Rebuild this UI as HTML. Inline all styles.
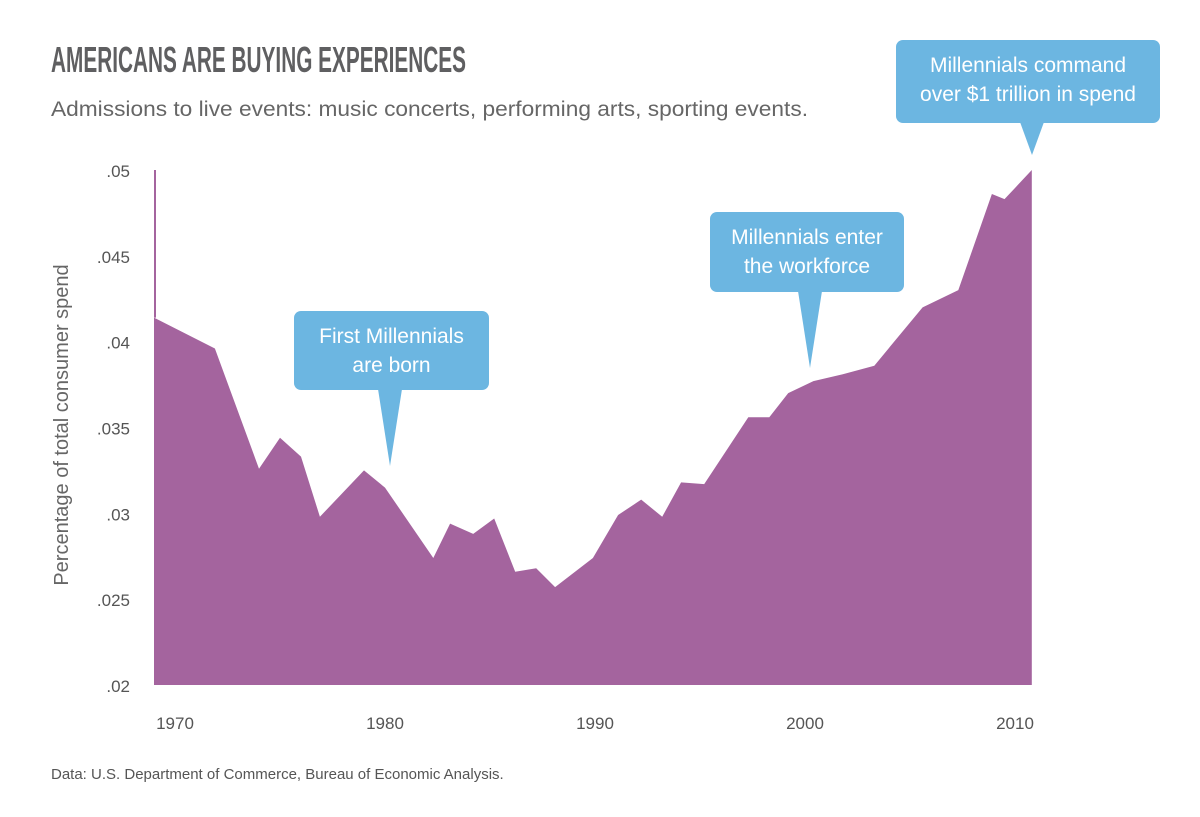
<!DOCTYPE html>
<html><head><meta charset="utf-8"><style>
body{margin:0;background:#fff;width:1200px;height:812px;overflow:hidden;font-family:"Liberation Sans",sans-serif;}
svg text{font-family:"Liberation Sans",sans-serif;}
</style></head><body>
<svg id="chart" width="1200" height="812">
<text x="51" y="72" font-size="36" font-weight="bold" fill="#5f5f61" textLength="415" lengthAdjust="spacingAndGlyphs">AMERICANS ARE BUYING EXPERIENCES</text>
<text x="51" y="116" font-size="21" fill="#666" textLength="757" lengthAdjust="spacingAndGlyphs">Admissions to live events: music concerts, performing arts, sporting events.</text>
<text transform="translate(68,425) rotate(-90)" text-anchor="middle" font-size="20" fill="#666">Percentage of total consumer spend</text>
<text x="51" y="779" font-size="15" fill="#555">Data: U.S. Department of Commerce, Bureau of Economic Analysis.</text>
<g id="marks"></g>
<g id="axes"></g>
<g id="callouts"></g>
</svg>
<script>
const years=[1969,1971.9,1974,1975,1976,1976.9,1979,1980,1982.3,1983.1,1984.2,1985.2,1986.2,1987.2,1988.1,1989.9,1991.1,1992.2,1993.2,1994.1,1995.2,1997.3,1998.3,1999.2,2000.4,2001.8,2003.3,2005.6,2007.3,2008.9,2009.5,2010.8];
const values=[0.0414,0.0396,0.0326,0.0344,0.0333,0.0298,0.0325,0.0315,0.0274,0.0294,0.0288,0.0297,0.0266,0.0268,0.0257,0.0274,0.0299,0.0308,0.0298,0.0318,0.0317,0.0356,0.0356,0.0370,0.0377,0.0381,0.0386,0.0420,0.0430,0.0486,0.0483,0.0500];
const yTicks=[0.02,0.025,0.03,0.035,0.04,0.045,0.05];
const yTickLabels=[".02",".025",".03",".035",".04",".045",".05"];
const xTicks=[1970,1980,1990,2000,2010];
const NS="http://www.w3.org/2000/svg";
const x=v=>175+(v-1970)*21.0;
const y=v=>685-(v-0.02)/0.03*515;
const marks=document.getElementById('marks'),axes=document.getElementById('axes'),co=document.getElementById('callouts');
function mk(tag,attrs,parent){const e=document.createElementNS(NS,tag);for(const k in attrs)e.setAttribute(k,attrs[k]);parent.appendChild(e);return e;}
let d=`M${x(years[0])},${y(0.02)}`;
years.forEach((yr,i)=>{d+=` L${x(yr)},${y(values[i])}`;});
d+=` L${x(years[years.length-1])},${y(0.02)} Z`;
const area=mk('path',{d:d,fill:'#a4649e'},marks);


const spike=mk('rect',{x:x(years[0]),y:y(0.05),width:2,height:y(values[0])-y(0.05),fill:'#a4649e'},marks);


yTicks.forEach((t,i)=>{const e=mk('text',{x:130,y:y(t)+7,'text-anchor':'end','font-size':17,fill:'#555'},axes);e.textContent=yTickLabels[i];

});
xTicks.forEach(t=>{const e=mk('text',{x:x(t),y:729,'text-anchor':'middle','font-size':17,fill:'#555'},axes);e.textContent=t;

});
const calls=[
 {name:'callout-first-millennials',x0:294,y0:311,w:195,h:79,tx:390,ty:466,lines:['First Millennials','are born']},
 {name:'callout-workforce',x0:710,y0:212,w:194,h:80,tx:810,ty:368,lines:['Millennials enter','the workforce']},
 {name:'callout-trillion',x0:896,y0:40,w:264,h:83,tx:1032,ty:155,lines:['Millennials command','over $1 trillion in spend']}
];
calls.forEach(c=>{const g=mk('g',{},co);


mk('rect',{x:c.x0,y:c.y0,width:c.w,height:c.h,rx:7,fill:'#6cb6e1'},g);
mk('polygon',{points:`${c.tx-12},${c.y0+c.h-1} ${c.tx+12},${c.y0+c.h-1} ${c.tx},${c.ty}`,fill:'#6cb6e1'},g);
c.lines.forEach((l,i)=>{const t=mk('text',{x:c.x0+c.w/2,y:c.y0+32+i*29,'text-anchor':'middle','font-size':21,fill:'#fff'},g);t.textContent=l;});
});
</script>
</body></html>
